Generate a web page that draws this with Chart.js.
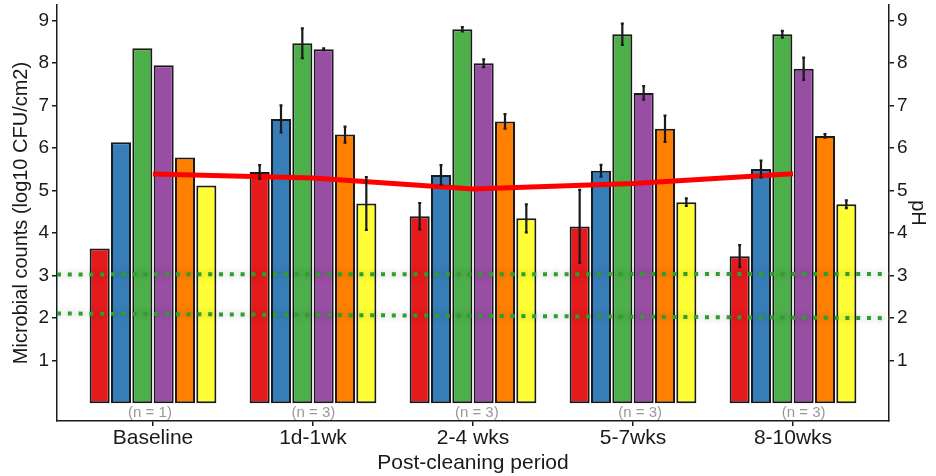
<!DOCTYPE html>
<html>
<head>
<meta charset="utf-8">
<script src="https://cdn.jsdelivr.net/npm/chart.js@4.4.1/dist/chart.umd.min.js"></script>
<style>
  html, body { margin: 0; padding: 0; background: #fff; }
</style>
</head>
<body>
<canvas id="bar-chart" width="936" height="476"></canvas>
<script>
// categories and labels
const periods = ["Baseline", "1d-1wk", "2-4 wks", "5-7wks", "8-10wks"];
const sampleSizes = ["(n = 1)", "(n = 3)", "(n = 3)", "(n = 3)", "(n = 3)"];
const tickValues = [1, 2, 3, 4, 5, 6, 7, 8, 9];

// microbial counts per group (log10 CFU/cm2) and their error
const redCounts    = [3.64, 5.44, 4.40, 4.16, 3.46];
const redErr       = [0, 0.16, 0.31, 0.86, 0.26];
const blueCounts   = [6.14, 6.69, 5.37, 5.47, 5.51];
const blueErr      = [0, 0.32, 0.23, 0.14, 0.20];
const greenCounts  = [8.35, 8.47, 8.80, 8.68, 8.68];
const greenErr     = [0, 0.35, 0.05, 0.25, 0.08];
const purpleCounts = [7.95, 8.33, 8.00, 7.30, 7.87];
const purpleErr    = [0, 0.02, 0.09, 0.16, 0.26];
const orangeCounts = [5.78, 6.32, 6.63, 6.46, 6.29];
const orangeErr    = [0, 0.19, 0.17, 0.31, 0.04];
const yellowCounts = [5.12, 4.70, 4.35, 4.73, 4.68];
const yellowErr    = [0, 0.62, 0.33, 0.09, 0.09];

// pH along the periods
const phValues = [5.39, 5.30, 5.04, 5.17, 5.40];

// dotted reference lines (start and end value)
const upperLine = [3.03, 3.04];
const lowerLine = [2.11, 2.00];

const xMin = 0.4, xMax = 5.6;
const yMin = -0.42, yMax = 9.37;

const barSeries = [
  { values: redCounts, err: redErr, color: "#E41A1C" },
  { values: blueCounts, err: blueErr, color: "#377EB8" },
  { values: greenCounts, err: greenErr, color: "#4DAF4A" },
  { values: purpleCounts, err: purpleErr, color: "#984EA3" },
  { values: orangeCounts, err: orangeErr, color: "#FF7F00" },
  { values: yellowCounts, err: yellowErr, color: "#FFFF33" }
];

const ink = "#1a1a1a";
const font = "'Liberation Sans', Arial, sans-serif";

const datasets = barSeries.map(s => ({
  type: 'bar',
  data: s.values.map((v, i) => ({ x: i + 1, y: v })),
  backgroundColor: s.color,
  borderColor: ink,
  borderWidth: 2,
  borderSkipped: false,
  categoryPercentage: 0.8,
  barPercentage: 0.94,
  yAxisID: 'y',
  order: 3
}));

[upperLine, lowerLine].forEach(l => {
  datasets.push({
    type: 'line',
    data: [{ x: xMin, y: l[0] }, { x: xMax, y: l[1] }],
    borderColor: "#2f9e2f",
    borderWidth: 4,
    borderDash: [4, 6.8],
    pointRadius: 0,
    yAxisID: 'y',
    glow: true,
    order: 2
  });
});

datasets.push({
  type: 'line',
  data: phValues.map((v, i) => ({ x: i + 1, y: v })),
  borderColor: "#ff0000",
  borderWidth: 5,
  pointRadius: 0,
  tension: 0,
  yAxisID: 'y2',
  order: 1
});

// soft grey halo under the dotted lines
const glowPlugin = {
  id: 'glow',
  beforeDatasetDraw(chart, args) {
    if (args.meta._dataset.glow) {
      chart.ctx.save();
      chart.ctx.shadowColor = "rgba(0,0,0,0.35)";
      chart.ctx.shadowBlur = 6;
    }
  },
  afterDatasetDraw(chart, args) {
    if (args.meta._dataset.glow) chart.ctx.restore();
  }
};

const errorBarPlugin = {
  id: 'errorBars',
  afterDatasetsDraw(chart) {
    const ctx = chart.ctx;
    const y = chart.scales.y;
    ctx.save();
    ctx.strokeStyle = ink;
    ctx.lineWidth = 2.2;
    barSeries.forEach((s, di) => {
      const meta = chart.getDatasetMeta(di);
      meta.data.forEach((bar, i) => {
        const e = s.err[i];
        if (!e) return;
        const top = y.getPixelForValue(s.values[i] + e);
        const bottom = y.getPixelForValue(s.values[i] - e);
        ctx.beginPath();
        ctx.moveTo(bar.x, top);
        ctx.lineTo(bar.x, bottom);
        ctx.moveTo(bar.x - 1.5, top);
        ctx.lineTo(bar.x + 1.5, top);
        ctx.moveTo(bar.x - 1.5, bottom);
        ctx.lineTo(bar.x + 1.5, bottom);
        ctx.stroke();
      });
    });
    // sample size notes under each group
    const x = chart.scales.x;
    ctx.fillStyle = "#999";
    ctx.font = "15px " + font;
    ctx.textAlign = "center";
    ctx.textBaseline = "middle";
    sampleSizes.forEach((t, i) => {
      ctx.fillText(t, x.getPixelForValue(i + 1) + 3.4 * i - 3, y.getPixelForValue(-0.22));
    });
    ctx.restore();
  }
};

function yAxis(position, title, width, titlePad) {
  return {
    type: 'linear',
    position: position,
    min: yMin,
    max: yMax,
    afterBuildTicks: scale => { scale.ticks = tickValues.map(v => ({ value: v })); },
    afterFit: scale => {
      scale.width = width;
      scale.paddingTop = 0;
      scale.paddingBottom = 0;
    },
    grid: { drawOnChartArea: false, drawTicks: true, tickLength: 5, color: ink, lineWidth: 1.5 },
    border: { display: true, color: ink, width: 1.5 },
    ticks: { color: ink, font: { family: font, size: 19 }, padding: 3 },
    title: { display: true, text: title, color: ink, font: { family: font, size: 20 }, padding: { top: titlePad, bottom: 0 } }
  };
}

new Chart(document.getElementById("bar-chart"), {
  data: { datasets: datasets },
  options: {
    responsive: false,
    animation: false,
    devicePixelRatio: 1,
    layout: { padding: { top: 5 } },
    plugins: { legend: { display: false }, tooltip: { enabled: false } },
    scales: {
      x: {
        type: 'linear',
        min: xMin,
        max: xMax,
        offset: false,
        afterBuildTicks: scale => { scale.ticks = periods.map((p, i) => ({ value: i + 1 })); },
        afterFit: scale => { scale.height = 55; },
        grid: { offset: false, drawOnChartArea: false, drawTicks: true, tickLength: 5, color: ink, lineWidth: 1.5 },
        border: { display: true, color: ink, width: 1.5 },
        ticks: {
          color: ink,
          font: { family: font, size: 21 },
          padding: 0,
          maxRotation: 0,
          autoSkip: false,
          callback: (v, i) => periods[i]
        },
        title: { display: true, text: 'Post-cleaning period', color: ink, font: { family: font, size: 21 }, padding: 0 }
      },
      y: yAxis('left', 'Microbial counts (log10 CFU/cm2)', 57, 9),
      y2: yAxis('right', 'pH', 47, 6)
    }
  },
  plugins: [glowPlugin, errorBarPlugin]
});
</script>
</body>
</html>
